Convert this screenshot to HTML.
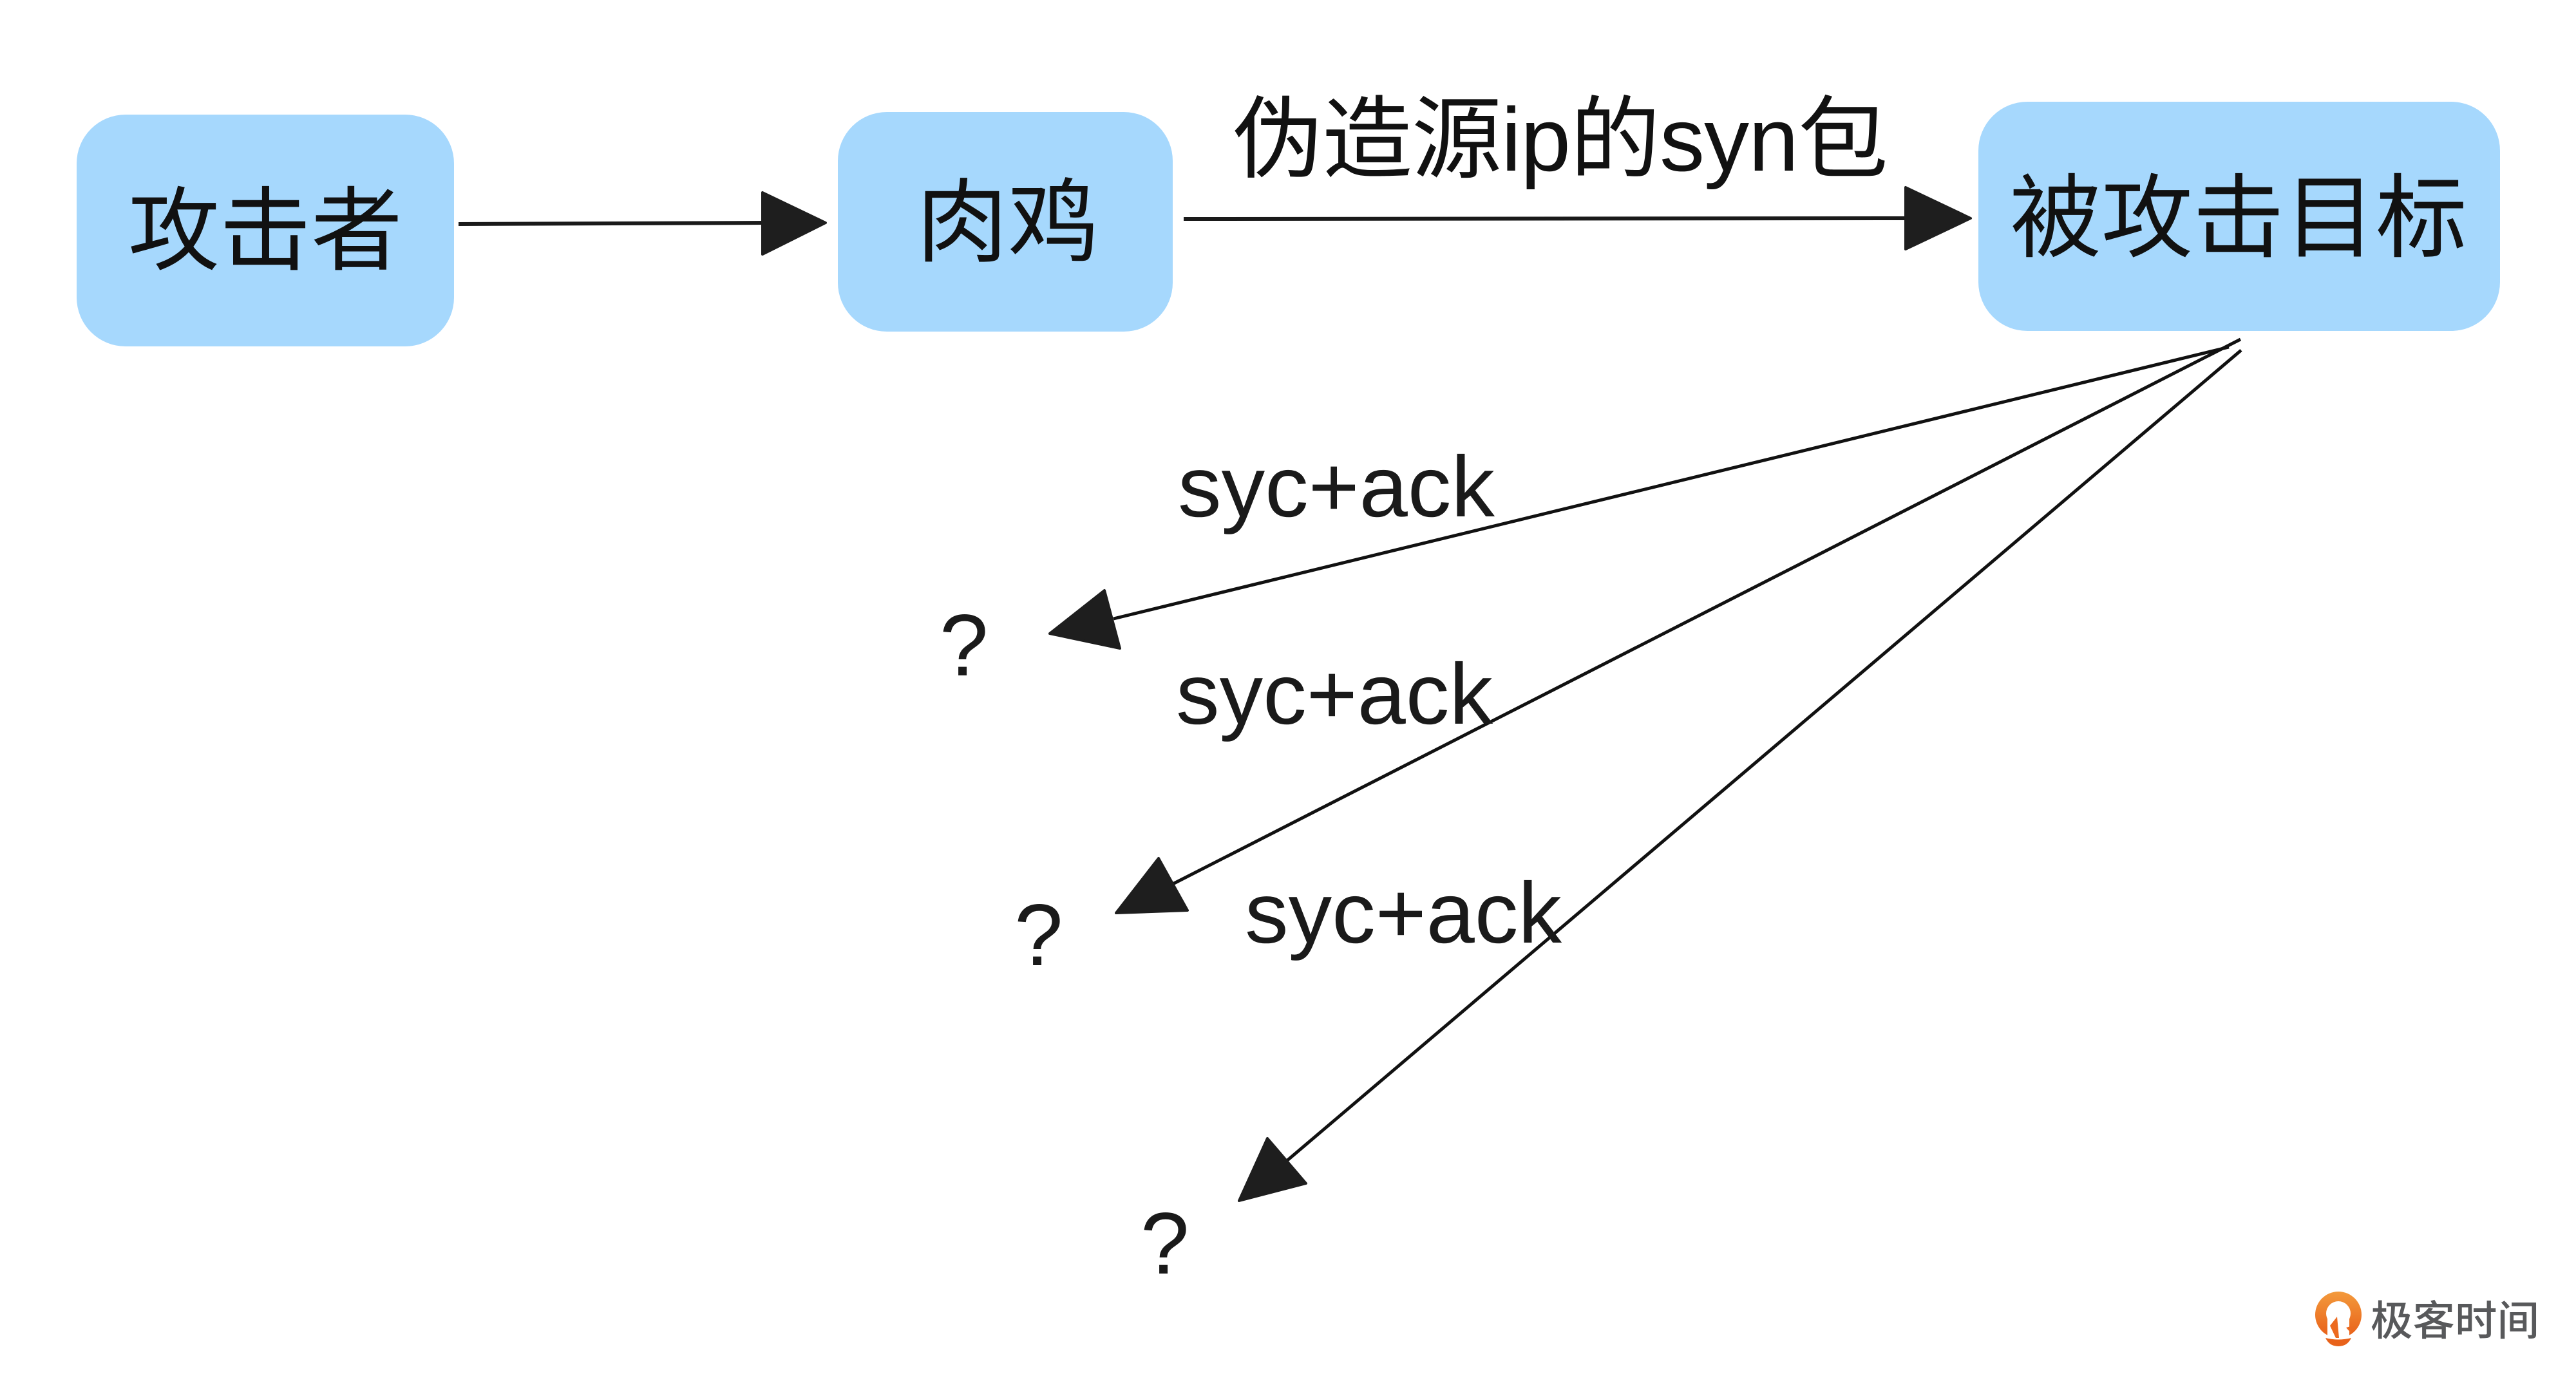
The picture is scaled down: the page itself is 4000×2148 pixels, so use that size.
<!DOCTYPE html>
<html>
<head>
<meta charset="utf-8">
<style>
  html, body { margin: 0; padding: 0; background: #ffffff; }
  body { width: 4000px; height: 2148px; overflow: hidden; }
  svg { display: block; }
  .cjk { font-family: "Liberation Sans", "Noto Sans CJK SC", sans-serif; fill: #111111; }
  .lat { font-family: "Liberation Sans", "Noto Sans CJK SC", sans-serif; fill: #1a1a1a; }
</style>
</head>
<body>
<svg width="4000" height="2148" viewBox="0 0 4000 2148" xmlns="http://www.w3.org/2000/svg">
  <rect x="0" y="0" width="4000" height="2148" fill="#ffffff"/>

  <!-- Boxes -->
  <rect x="119" y="178" width="586" height="360" rx="76" ry="76" fill="#a6d8fd"/>
  <rect x="1301" y="174" width="520" height="341" rx="76" ry="76" fill="#a6d8fd"/>
  <rect x="3072" y="158" width="810" height="356" rx="76" ry="76" fill="#a6d8fd"/>

  <!-- Box labels -->
  <text class="cjk" x="412" y="408" font-size="142" text-anchor="middle">攻击者</text>
  <text class="cjk" x="1565" y="395" font-size="142" text-anchor="middle">肉鸡</text>
  <text class="cjk" x="3476" y="388" font-size="142" text-anchor="middle">被攻击目标</text>

  <!-- Arrow: 攻击者 -> 肉鸡 -->
  <line x1="712" y1="348" x2="1190" y2="346" stroke="#1a1a1a" stroke-width="6"/>
  <polygon points="1282,346 1184,299 1184,395" fill="#1e1e1e" stroke="#1e1e1e" stroke-width="4" stroke-linejoin="round"/>

  <!-- Arrow: 肉鸡 -> 被攻击目标 -->
  <line x1="1838" y1="340" x2="2965" y2="339" stroke="#1a1a1a" stroke-width="6"/>
  <polygon points="3060,339 2959,291 2959,387" fill="#1e1e1e" stroke="#1e1e1e" stroke-width="4" stroke-linejoin="round"/>
  <text class="cjk" x="1914" y="265" font-size="140" textLength="1018" lengthAdjust="spacing">伪造源ip的syn包</text>

  <!-- Diagonal arrows -->
  <line x1="3461" y1="539" x2="1729" y2="961" stroke="#111111" stroke-width="5"/>
  <polygon points="1630,984 1715,917 1739,1007" fill="#1e1e1e" stroke="#1e1e1e" stroke-width="4" stroke-linejoin="round"/>

  <line x1="3479" y1="527" x2="1821" y2="1373" stroke="#111111" stroke-width="5"/>
  <polygon points="1733,1418 1799,1333 1844,1414" fill="#1e1e1e" stroke="#1e1e1e" stroke-width="4" stroke-linejoin="round"/>

  <line x1="3480" y1="544" x2="1998" y2="1803" stroke="#111111" stroke-width="5"/>
  <polygon points="1924,1865 1968,1768 2028,1838" fill="#1e1e1e" stroke="#1e1e1e" stroke-width="4" stroke-linejoin="round"/>

  <!-- syc+ack labels -->
  <text class="lat" x="1829" y="802" font-size="134" textLength="492" lengthAdjust="spacingAndGlyphs">syc+ack</text>
  <text class="lat" x="1826" y="1124" font-size="134" textLength="492" lengthAdjust="spacingAndGlyphs">syc+ack</text>
  <text class="lat" x="1933" y="1464" font-size="134" textLength="492" lengthAdjust="spacingAndGlyphs">syc+ack</text>

  <!-- Question marks -->
  <text class="lat" x="1459" y="1049" font-size="136">?</text>
  <text class="lat" x="1575" y="1499" font-size="136">?</text>
  <text class="lat" x="1771" y="1978" font-size="136">?</text>

  <!-- Logo -->
  <defs>
    <linearGradient id="og" x1="0" y1="0" x2="0" y2="1">
      <stop offset="0" stop-color="#f39a3c"/>
      <stop offset="1" stop-color="#e85f18"/>
    </linearGradient>
  </defs>
  <g>
    <circle cx="3631" cy="2042" r="36" fill="url(#og)"/>
    <circle cx="3631" cy="2040" r="19" fill="#ffffff"/>
    <rect x="3614" y="2040" width="34" height="40" fill="#ffffff"/>
    <polygon points="3618,2059 3629,2045 3632,2078 3627,2078" fill="#ec6a20"/>
    <polygon points="3643,2062 3650,2060 3652,2072" fill="#ec6a20"/>
    <path d="M3597,2076 Q3631,2086 3665,2076 L3665,2080 Q3631,2092 3597,2080 Z" fill="#ffffff"/>
    <path d="M3611,2078 Q3631,2083 3651,2078 Q3645,2091 3631,2091 Q3617,2091 3611,2078 Z" fill="#e8621a"/>
  </g>
  <text x="3681" y="2074" font-size="64" font-weight="500" fill="#58595b" font-family="'Liberation Sans', 'Noto Sans CJK SC', sans-serif" textLength="262" lengthAdjust="spacingAndGlyphs">极客时间</text>
</svg>
</body>
</html>
